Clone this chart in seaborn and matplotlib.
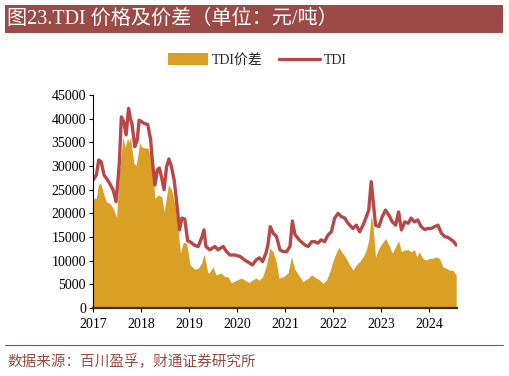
import numpy as np
import pandas as pd
import matplotlib
matplotlib.use('Agg')
import matplotlib.pyplot as plt
import seaborn as sns
from matplotlib.patches import Patch, Rectangle
from matplotlib.lines import Line2D

# ---------------------------------------------------------------
# Data (x in decimal years, yuan/ton)
# ---------------------------------------------------------------
tdi_x = [2017.00, 2017.07, 2017.12, 2017.17, 2017.23, 2017.28, 2017.35, 2017.42, 2017.48, 2017.52,
         2017.55, 2017.59, 2017.64, 2017.69, 2017.74, 2017.78, 2017.81, 2017.87, 2017.92, 2017.96,
         2018.01, 2018.07, 2018.14, 2018.20, 2018.24, 2018.29, 2018.34, 2018.38, 2018.43, 2018.48,
         2018.53, 2018.58, 2018.63, 2018.69, 2018.74, 2018.80, 2018.85, 2018.91, 2018.97, 2019.02,
         2019.12, 2019.19, 2019.26, 2019.31, 2019.35, 2019.43, 2019.54, 2019.60, 2019.71, 2019.78,
         2019.85, 2019.95, 2020.06, 2020.16, 2020.26, 2020.32, 2020.39, 2020.46, 2020.53, 2020.60,
         2020.64, 2020.69, 2020.75, 2020.82, 2020.89, 2020.96, 2021.03, 2021.10, 2021.15, 2021.20,
         2021.29, 2021.41, 2021.48, 2021.55, 2021.62, 2021.68, 2021.75, 2021.82, 2021.89, 2021.96,
         2022.03, 2022.10, 2022.17, 2022.24, 2022.30, 2022.41, 2022.48, 2022.55, 2022.62, 2022.69,
         2022.74, 2022.79, 2022.83, 2022.88, 2022.95, 2023.02, 2023.09, 2023.16, 2023.23, 2023.30,
         2023.36, 2023.42, 2023.49, 2023.56, 2023.62, 2023.69, 2023.76, 2023.83, 2023.90, 2023.97,
         2024.04, 2024.11, 2024.18, 2024.25, 2024.32, 2024.39, 2024.46, 2024.51, 2024.56]
tdi_val = [27000, 28100, 31300, 30900, 28100, 27400, 26300, 24900, 22500, 27000,
           30900, 40400, 39400, 36600, 42200, 40000, 39000, 34100, 35500, 39700,
           39400, 39000, 38800, 35500, 30600, 26000, 29200, 29600, 27500, 25000,
           29800, 31500, 30000, 27000, 22500, 16500, 19000, 18800, 14200, 14000,
           13200, 13000, 14800, 16500, 13000, 12300, 13000, 12300, 13000, 11900,
           11200, 11200, 10900, 10100, 9500, 9100, 10100, 10600, 9800, 11600,
           13300, 17200, 15800, 15100, 12300, 11900, 11900, 13000, 18400, 15600,
           14400, 13300, 13000, 14000, 14000, 13700, 14400, 14000, 15400, 16100,
           19000, 20000, 19300, 19000, 18000, 16800, 17500, 16100, 17500, 19300,
           20700, 26700, 22800, 17500, 17200, 19300, 20700, 19600, 18200, 17500,
           20300, 16500, 18200, 17900, 19000, 18200, 18600, 17200, 16600, 16800,
           16800, 17200, 17500, 15800, 15100, 14900, 14400, 14000, 13300]

spread_x = [2017.00, 2017.07, 2017.11, 2017.16, 2017.21, 2017.28, 2017.35, 2017.42, 2017.49, 2017.55,
            2017.62, 2017.67, 2017.72, 2017.75, 2017.78, 2017.85, 2017.90, 2017.97, 2018.02, 2018.10,
            2018.15, 2018.22, 2018.29, 2018.36, 2018.43, 2018.48, 2018.57, 2018.64, 2018.70, 2018.77,
            2018.82, 2018.88, 2018.95, 2019.02, 2019.12, 2019.19, 2019.26, 2019.31, 2019.35, 2019.39,
            2019.43, 2019.50, 2019.56, 2019.67, 2019.74, 2019.81, 2019.88, 2019.99, 2020.09, 2020.16,
            2020.25, 2020.32, 2020.39, 2020.46, 2020.53, 2020.60, 2020.68, 2020.75, 2020.82, 2020.87,
            2020.96, 2021.06, 2021.13, 2021.20, 2021.29, 2021.37, 2021.48, 2021.55, 2021.65, 2021.72,
            2021.79, 2021.86, 2021.93, 2022.00, 2022.07, 2022.12, 2022.17, 2022.24, 2022.33, 2022.41,
            2022.48, 2022.55, 2022.62, 2022.69, 2022.74, 2022.79, 2022.83, 2022.88, 2022.95, 2023.02,
            2023.09, 2023.16, 2023.23, 2023.30, 2023.36, 2023.42, 2023.49, 2023.56, 2023.62, 2023.69,
            2023.74, 2023.79, 2023.86, 2023.93, 2024.00, 2024.07, 2024.14, 2024.21, 2024.28, 2024.35,
            2024.42, 2024.49, 2024.56]
spread_val = [23200, 23200, 26000, 26400, 24500, 22400, 22100, 21100, 19200, 28500,
              36100, 34000, 35900, 35000, 36100, 30600, 30200, 34900, 34000, 33800,
              33800, 30900, 23200, 23900, 23500, 20300, 26000, 24900, 22100, 16500,
              11600, 13900, 13700, 9100, 8200, 8400, 9500, 11400, 9500, 7400,
              7600, 8700, 7000, 7400, 6600, 6600, 5300, 5900, 6300, 5900,
              5400, 5900, 6300, 5900, 6600, 8700, 12600, 11900, 9500, 6300,
              6600, 7400, 10800, 8200, 6800, 5600, 6300, 7000, 6300, 5900,
              5200, 5900, 7700, 10100, 11900, 12800, 11900, 11000, 9300, 8000,
              9100, 9800, 10800, 12300, 14400, 19600, 17200, 10800, 12600, 13700,
              14700, 13300, 11600, 13000, 14200, 11900, 12300, 12300, 11900, 12300,
              10800, 11900, 10500, 10100, 10500, 10500, 10800, 10500, 8700, 8400,
              8000, 8000, 7000]

year_ticks = [2017, 2018, 2019, 2020, 2021, 2022, 2023, 2024]
y_ticks = [0, 5000, 10000, 15000, 20000, 25000, 30000, 35000, 40000, 45000]

title_text = '图23.TDI 价格及价差（单位：元/吨）'
source_text = '数据来源：百川盈孚，财通证券研究所'

GOLD = '#DAA026'
RED = '#B84848'
BRAND = '#9B4A46'

sns.set_theme(style='white')
plt.rcParams['font.family'] = ['Liberation Serif', 'Noto Sans CJK SC', 'DejaVu Sans']

df_tdi = pd.DataFrame({'x': tdi_x, 'TDI': tdi_val})
df_spread = pd.DataFrame({'x': spread_x, 'spread': spread_val})

fig = plt.figure(figsize=(5.09, 3.76), dpi=100)
ax = fig.add_axes([0.1827, 0.181, 0.7155, 0.566])

# spread area
ax.fill_between(df_spread['x'], 0, df_spread['spread'], color=GOLD, linewidth=0, zorder=1)
# TDI price line
sns.lineplot(data=df_tdi, x='x', y='TDI', ax=ax, color=RED, linewidth=2.4, zorder=2)

ax.set_xlim(2017.0, 2024.58)
ax.set_ylim(0, 45000)
ax.set_xticks(year_ticks)
ax.set_xticklabels([str(y) for y in year_ticks])
ax.set_yticks(y_ticks)
ax.set_yticklabels([str(v) for v in y_ticks])
ax.set_xlabel('')
ax.set_ylabel('')
ax.tick_params(axis='both', labelsize=10, colors='black', length=3, width=0.8, direction='out',
               bottom=True, left=True, pad=2)
ax.tick_params(axis='x', pad=4)
for side in ['top', 'right']:
    ax.spines[side].set_visible(False)
ax.spines['left'].set_color('black')
ax.spines['left'].set_linewidth(0.8)
ax.spines['bottom'].set_color('#3a2a10')
ax.spines['bottom'].set_linewidth(1.6)
ax.grid(False)

# legend
handles = [Patch(facecolor=GOLD, edgecolor='none'),
           Line2D([0], [0], color=RED, linewidth=2.4)]
fig.legend(handles, ['TDI价差', 'TDI'], loc='center', bbox_to_anchor=(0.505, 0.84),
           ncol=2, frameon=False, fontsize=10, handlelength=2.9, handleheight=0.9,
           columnspacing=1.2, handletextpad=0.3)

# title bar
fig.patches.append(Rectangle((5 / 509, 1 - 33 / 376), 498 / 509, 28 / 376,
                             transform=fig.transFigure, facecolor=BRAND, edgecolor='none'))
fig.text(7 / 509, 1 - 19 / 376, title_text, color='white', fontsize=14.5, va='center', ha='left')

# footer
fig.add_artist(Line2D([5 / 509, 503 / 509], [1 - 345 / 376, 1 - 345 / 376],
                      transform=fig.transFigure, color=BRAND, linewidth=0.8))
fig.text(7 / 509, 1 - 362 / 376, source_text, color=BRAND, fontsize=10.5, va='center', ha='left')

fig.savefig('out.png', dpi=100)
